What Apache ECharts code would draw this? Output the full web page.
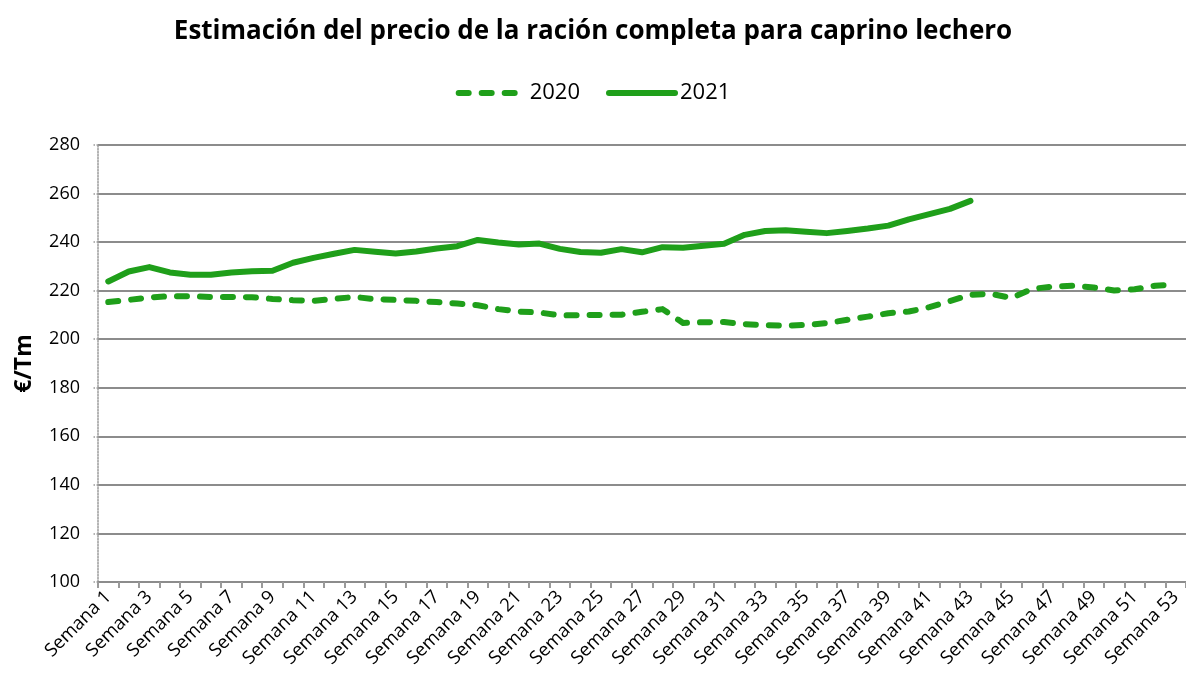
<!DOCTYPE html>
<html>
<head>
<meta charset="utf-8">
<script src="https://cdn.jsdelivr.net/npm/echarts@6/dist/echarts.min.js"></script>
<style>
  html, body { margin: 0; padding: 0; background: #fff; }
  #chart { width: 1186px; height: 679px; }
</style>
</head>
<body>
<div id="chart"></div>
<script>
// semanas 1..53
var semanas = [];
for (var i = 1; i <= 53; i++) { semanas.push('Semana ' + i); }

var precio2020 = [
    215.3, 216.2, 217.2, 217.7, 217.7, 217.4, 217.4, 217.3, 216.6, 216.1,
    215.8, 216.6, 217.4, 216.5, 216.2, 215.8, 215.3, 214.7, 214.0, 212.4,
    211.4, 211.0, 209.8, 209.9, 210.0, 210.1, 211.3, 212.4, 206.7, 207.0,
    207.1, 206.2, 205.8, 205.6, 205.9, 206.6, 208.0, 209.3, 210.7, 211.4,
    213.2, 215.7, 218.3, 218.7, 217.0, 220.7, 221.7, 222.0, 221.3, 220.1,
    220.6, 222.0, 222.6
];

var precio2021 = [
    223.8, 227.9, 229.7, 227.5, 226.6, 226.6, 227.5, 228.0, 228.2, 231.5,
    233.5, 235.2, 236.8, 236.0, 235.3, 236.1, 237.4, 238.3, 240.9, 239.8,
    239.0, 239.4, 237.2, 235.9, 235.6, 237.1, 235.8, 237.9, 237.7, 238.5,
    239.3, 243.0, 244.6, 244.9, 244.3, 243.7, 244.6, 245.6, 246.8, 249.4,
    251.5, 253.7, 257.0
];

var verde = '#1f9f1a';
var fuente = 'Open Sans';

var myChart = echarts.init(document.getElementById('chart'));
var option = {
    title: {
        text: 'Estimación del precio de la ración completa para caprino lechero',
        left: 'center',
        top: 14,
        textStyle: {
            fontFamily: fuente,
            fontSize: 26,
            fontWeight: 'bold',
            color: '#000'
        }
    },
    legend: {
        top: 77,
        left: 'center',
        itemWidth: 66,
        itemHeight: 6,
        itemGap: 26,
        itemStyle: { opacity: 0 },
        lineStyle: { width: 6, cap: 'round' },
        textStyle: {
            fontFamily: fuente,
            fontSize: 22,
            color: '#000'
        },
        data: ['2020', '2021']
    },
    grid: {
        left: 98,
        right: 0,
        top: 145,
        bottom: 97
    },
    xAxis: {
        type: 'category',
        data: semanas,
        boundaryGap: true,
        axisLine: { lineStyle: { color: '#8c8c8c', width: 2 } },
        axisTick: {
            show: true,
            interval: 0,
            length: 6,
            lineStyle: { color: '#9a9a9a', width: 2 }
        },
        axisLabel: {
            interval: 1,
            rotate: 45,
            margin: 12,
            fontFamily: fuente,
            fontSize: 18.5,
            color: '#000'
        }
    },
    yAxis: {
        type: 'value',
        min: 100,
        max: 280,
        interval: 20,
        name: '€/Tm',
        nameLocation: 'middle',
        nameGap: 62,
        nameTextStyle: {
            fontFamily: fuente,
            fontSize: 23,
            fontWeight: 'bold',
            color: '#000'
        },
        axisLine: {
            show: true,
            lineStyle: { color: '#9a9a9a', width: 1.5, type: 'dotted' }
        },
        axisTick: {
            show: true,
            length: 6,
            lineStyle: { color: '#9a9a9a', width: 1.5, type: 'dotted' }
        },
        axisLabel: {
            margin: 18,
            fontFamily: fuente,
            fontSize: 18,
            color: '#000'
        },
        splitLine: {
            lineStyle: { color: '#8c8c8c', width: 2 }
        }
    },
    series: [
        {
            name: '2020',
            type: 'line',
            data: precio2020,
            showSymbol: false,
            symbol: 'none',
            color: verde,
            lineStyle: {
                color: verde,
                width: 6,
                type: [10, 13],
                cap: 'round',
                join: 'round'
            }
        },
        {
            name: '2021',
            type: 'line',
            data: precio2021,
            showSymbol: false,
            symbol: 'none',
            color: verde,
            lineStyle: {
                color: verde,
                width: 6,
                cap: 'round',
                join: 'round'
            }
        }
    ]
};

myChart.setOption(option);
window.addEventListener('resize', function () { myChart.resize(); });
</script>
</body>
</html>
